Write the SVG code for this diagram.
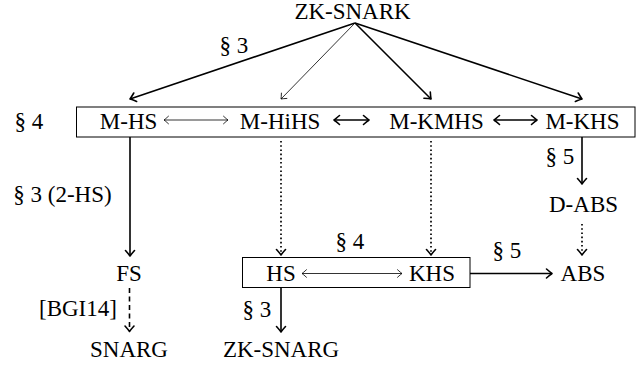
<svg xmlns="http://www.w3.org/2000/svg" width="637" height="366" viewBox="0 0 637 366">
  <defs>
    <marker id="to" markerUnits="userSpaceOnUse" markerWidth="14" markerHeight="14" refX="0" refY="0" viewBox="-7 -7 14 14" orient="auto-start-reverse" overflow="visible">
      <path fill="none" stroke="#000" stroke-width="1.6" stroke-linecap="round" stroke-linejoin="round" d="M-5.5,-4.5 Q-1.5,-1 0,0 Q-1.5,1 -5.5,4.5"/>
    </marker>
    <marker id="toThin" markerUnits="userSpaceOnUse" markerWidth="14" markerHeight="14" refX="0" refY="0" viewBox="-7 -7 14 14" orient="auto-start-reverse" overflow="visible">
      <path fill="none" stroke="#000" stroke-width="0.8" stroke-linecap="round" stroke-linejoin="round" d="M-4.5,-3.8 Q-1.2,-0.8 0,0 Q-1.2,0.8 -4.5,3.8"/>
    </marker>
  </defs>
  <rect width="637" height="366" fill="#fff"/>

  <!-- boxes drawn first so connectors sit on top -->
  <g id="multi-box"><rect x="76.5" y="107" width="558.5" height="30" fill="#fff" stroke="#000" stroke-width="1"/></g>
  <g id="base-box"><rect x="242.5" y="257.5" width="227.5" height="30" fill="#fff" stroke="#000" stroke-width="1"/></g>

  <g id="connectors" fill="none" stroke="#000">
    <!-- thick solid arrows -->
    <g stroke-width="1.6">
      <line x1="355" y1="23" x2="130" y2="99" marker-end="url(#to)"/>
      <line x1="355" y1="23" x2="431" y2="99" marker-end="url(#to)"/>
      <line x1="355" y1="23" x2="582" y2="99" marker-end="url(#to)"/>
      <line x1="334" y1="120" x2="369" y2="120" marker-start="url(#to)" marker-end="url(#to)"/>
      <line x1="494" y1="120" x2="537" y2="120" marker-start="url(#to)" marker-end="url(#to)"/>
      <line x1="130" y1="137" x2="130" y2="256" marker-end="url(#to)"/>
      <line x1="582" y1="137" x2="582" y2="184" marker-end="url(#to)"/>
      <line x1="470" y1="273.5" x2="552" y2="273.5" marker-end="url(#to)"/>
      <line x1="281" y1="288" x2="281" y2="332" marker-end="url(#to)"/>
    </g>
    <!-- thin solid arrows -->
    <g stroke-width="0.8">
      <line x1="355" y1="23" x2="281" y2="99" marker-end="url(#toThin)"/>
      <line x1="164" y1="120" x2="228" y2="120" marker-start="url(#toThin)" marker-end="url(#toThin)"/>
      <line x1="302" y1="273.5" x2="402" y2="273.5" marker-start="url(#toThin)" marker-end="url(#toThin)"/>
    </g>
    <!-- dotted arrows -->
    <g stroke-width="1.7" stroke-dasharray="1.6 2.6">
      <line x1="281" y1="141" x2="281" y2="252"/>
      <line x1="431" y1="141" x2="431" y2="252"/>
      <line x1="582" y1="224" x2="582" y2="252"/>
    </g>
    <!-- dashed arrow -->
    <line x1="129.5" y1="288" x2="129.5" y2="329" stroke-width="1.6" stroke-dasharray="5 3.5"/>
    <!-- heads of the dotted and dashed arrows -->
    <g stroke-width="0.8">
      <line x1="281" y1="254" x2="281" y2="255" marker-end="url(#to)"/>
      <line x1="431" y1="254" x2="431" y2="255" marker-end="url(#to)"/>
      <line x1="582" y1="254" x2="582" y2="255" marker-end="url(#to)"/>
      <line x1="129.5" y1="330" x2="129.5" y2="331.5" marker-end="url(#to)"/>
    </g>
  </g>

  <g id="zk-snark"><text x="294.4" y="18.5" font-size="23" font-family="Liberation Serif">ZK-SNARK</text></g>
  <g id="m-hs"><text x="99.8" y="129" font-size="23" font-family="Liberation Serif">M-HS</text></g>
  <g id="m-hihs"><text x="239.8" y="129" font-size="23" font-family="Liberation Serif">M-HiHS</text></g>
  <g id="m-kmhs"><text x="389.2" y="129" font-size="23" font-family="Liberation Serif">M-KMHS</text></g>
  <g id="m-khs"><text x="545.4" y="129" font-size="23" font-family="Liberation Serif">M-KHS</text></g>
  <g id="d-abs"><text x="549" y="212" font-size="23" font-family="Liberation Serif">D-ABS</text></g>
  <g id="fs"><text x="116.2" y="280.5" font-size="23" font-family="Liberation Serif">FS</text></g>
  <g id="hs"><text x="266.3" y="280.5" font-size="23" font-family="Liberation Serif">HS</text></g>
  <g id="khs"><text x="409" y="280.5" font-size="23" font-family="Liberation Serif">KHS</text></g>
  <g id="abs"><text x="560.6" y="280.5" font-size="23" font-family="Liberation Serif">ABS</text></g>
  <g id="snarg"><text x="90" y="356.5" font-size="23" font-family="Liberation Serif">SNARG</text></g>
  <g id="zk-snarg"><text x="222.9" y="356.5" font-size="23" font-family="Liberation Serif">ZK-SNARG</text></g>

  <g id="labels">
    <text x="219.6" y="53" font-size="23" font-family="Liberation Serif">§ 3</text>
    <text x="14.6" y="129" font-size="23" font-family="Liberation Serif">§ 4</text>
    <text x="545.6" y="164" font-size="23" font-family="Liberation Serif">§ 5</text>
    <text x="13.3" y="202" font-size="23" font-family="Liberation Serif">§ 3 (2-HS)</text>
    <text x="335.6" y="249" font-size="23" font-family="Liberation Serif">§ 4</text>
    <text x="492.6" y="258" font-size="23" font-family="Liberation Serif">§ 5</text>
    <text x="39" y="316" font-size="23" font-family="Liberation Serif">[BGI14]</text>
    <text x="242.6" y="317" font-size="23" font-family="Liberation Serif">§ 3</text>
  </g>
</svg>
